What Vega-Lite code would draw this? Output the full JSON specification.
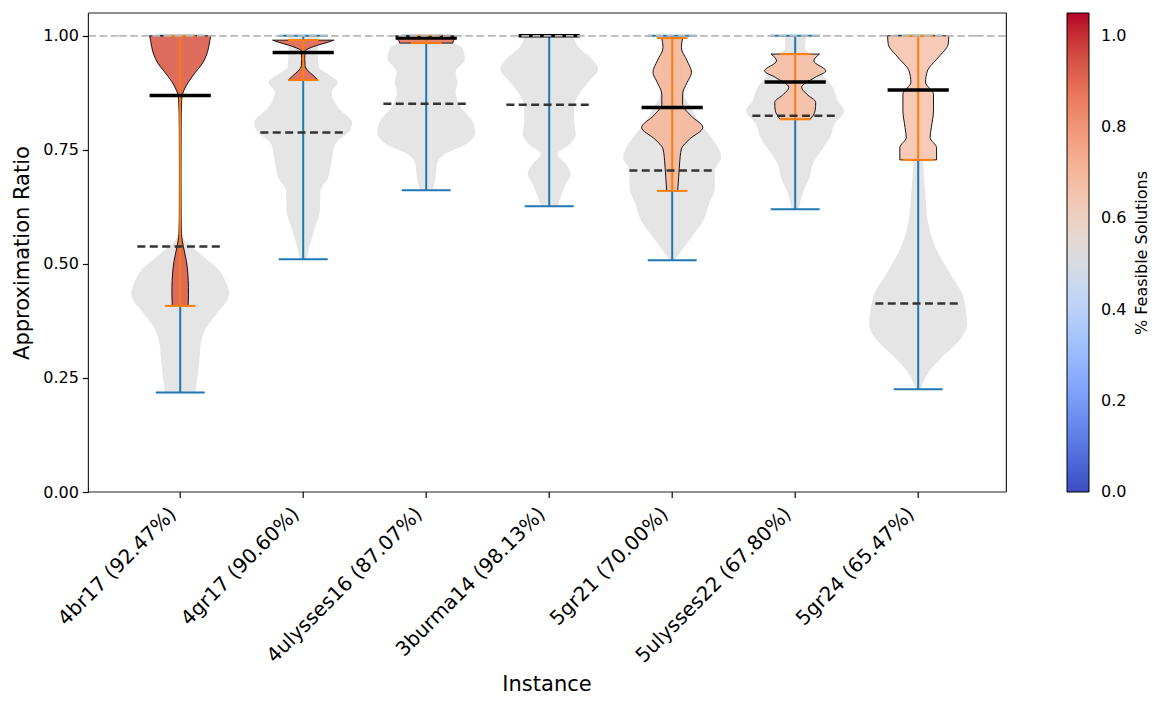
{
  "$schema": "https://vega.github.io/schema/vega-lite/v6.json",
  "padding": {"left": 11, "top": 12, "right": 0, "bottom": 0},
  "background": "white",
  "bounds": "flush",
  "data": {"values": [
    {"inst": "4br17 (92.47%)", "set": "all", "ratio": 0.218, "density": 0.31},
    {"inst": "4br17 (92.47%)", "set": "all", "ratio": 0.25, "density": 0.35},
    {"inst": "4br17 (92.47%)", "set": "all", "ratio": 0.287, "density": 0.39},
    {"inst": "4br17 (92.47%)", "set": "all", "ratio": 0.324, "density": 0.42},
    {"inst": "4br17 (92.47%)", "set": "all", "ratio": 0.36, "density": 0.53},
    {"inst": "4br17 (92.47%)", "set": "all", "ratio": 0.397, "density": 0.79},
    {"inst": "4br17 (92.47%)", "set": "all", "ratio": 0.419, "density": 0.95},
    {"inst": "4br17 (92.47%)", "set": "all", "ratio": 0.437, "density": 1.0},
    {"inst": "4br17 (92.47%)", "set": "all", "ratio": 0.463, "density": 0.92},
    {"inst": "4br17 (92.47%)", "set": "all", "ratio": 0.485, "density": 0.8},
    {"inst": "4br17 (92.47%)", "set": "all", "ratio": 0.521, "density": 0.42},
    {"inst": "4br17 (92.47%)", "set": "all", "ratio": 0.558, "density": 0.07},
    {"inst": "4br17 (92.47%)", "set": "all", "ratio": 0.6, "density": 0.02},
    {"inst": "4br17 (92.47%)", "set": "all", "ratio": 0.7, "density": 0.015},
    {"inst": "4br17 (92.47%)", "set": "all", "ratio": 0.8, "density": 0.015},
    {"inst": "4br17 (92.47%)", "set": "all", "ratio": 0.9, "density": 0.02},
    {"inst": "4br17 (92.47%)", "set": "all", "ratio": 1.0, "density": 0.03},

    {"inst": "4gr17 (90.60%)", "set": "all", "ratio": 0.51, "density": 0.07},
    {"inst": "4gr17 (90.60%)", "set": "all", "ratio": 0.543, "density": 0.14},
    {"inst": "4gr17 (90.60%)", "set": "all", "ratio": 0.58, "density": 0.24},
    {"inst": "4gr17 (90.60%)", "set": "all", "ratio": 0.616, "density": 0.34},
    {"inst": "4gr17 (90.60%)", "set": "all", "ratio": 0.66, "density": 0.35},
    {"inst": "4gr17 (90.60%)", "set": "all", "ratio": 0.689, "density": 0.51},
    {"inst": "4gr17 (90.60%)", "set": "all", "ratio": 0.726, "density": 0.58},
    {"inst": "4gr17 (90.60%)", "set": "all", "ratio": 0.762, "density": 0.65},
    {"inst": "4gr17 (90.60%)", "set": "all", "ratio": 0.792, "density": 0.95},
    {"inst": "4gr17 (90.60%)", "set": "all", "ratio": 0.81, "density": 1.0},
    {"inst": "4gr17 (90.60%)", "set": "all", "ratio": 0.843, "density": 0.71},
    {"inst": "4gr17 (90.60%)", "set": "all", "ratio": 0.876, "density": 0.58},
    {"inst": "4gr17 (90.60%)", "set": "all", "ratio": 0.898, "density": 0.71},
    {"inst": "4gr17 (90.60%)", "set": "all", "ratio": 0.916, "density": 0.51},
    {"inst": "4gr17 (90.60%)", "set": "all", "ratio": 0.931, "density": 0.32},
    {"inst": "4gr17 (90.60%)", "set": "all", "ratio": 0.96, "density": 0.3},
    {"inst": "4gr17 (90.60%)", "set": "all", "ratio": 1.0, "density": 0.3},

    {"inst": "4ulysses16 (87.07%)", "set": "all", "ratio": 0.6615, "density": 0.13},
    {"inst": "4ulysses16 (87.07%)", "set": "all", "ratio": 0.689, "density": 0.19},
    {"inst": "4ulysses16 (87.07%)", "set": "all", "ratio": 0.719, "density": 0.22},
    {"inst": "4ulysses16 (87.07%)", "set": "all", "ratio": 0.741, "density": 0.38},
    {"inst": "4ulysses16 (87.07%)", "set": "all", "ratio": 0.762, "density": 0.8},
    {"inst": "4ulysses16 (87.07%)", "set": "all", "ratio": 0.788, "density": 1.0},
    {"inst": "4ulysses16 (87.07%)", "set": "all", "ratio": 0.814, "density": 0.94},
    {"inst": "4ulysses16 (87.07%)", "set": "all", "ratio": 0.843, "density": 0.71},
    {"inst": "4ulysses16 (87.07%)", "set": "all", "ratio": 0.876, "density": 0.6},
    {"inst": "4ulysses16 (87.07%)", "set": "all", "ratio": 0.898, "density": 0.64},
    {"inst": "4ulysses16 (87.07%)", "set": "all", "ratio": 0.92, "density": 0.6},
    {"inst": "4ulysses16 (87.07%)", "set": "all", "ratio": 0.949, "density": 0.79},
    {"inst": "4ulysses16 (87.07%)", "set": "all", "ratio": 0.975, "density": 0.73},
    {"inst": "4ulysses16 (87.07%)", "set": "all", "ratio": 0.993, "density": 0.36},
    {"inst": "4ulysses16 (87.07%)", "set": "all", "ratio": 1.0, "density": 0.3},

    {"inst": "3burma14 (98.13%)", "set": "all", "ratio": 0.6265, "density": 0.17},
    {"inst": "3burma14 (98.13%)", "set": "all", "ratio": 0.649, "density": 0.24},
    {"inst": "3burma14 (98.13%)", "set": "all", "ratio": 0.675, "density": 0.34},
    {"inst": "3burma14 (98.13%)", "set": "all", "ratio": 0.697, "density": 0.44},
    {"inst": "3burma14 (98.13%)", "set": "all", "ratio": 0.719, "density": 0.34},
    {"inst": "3burma14 (98.13%)", "set": "all", "ratio": 0.741, "density": 0.17},
    {"inst": "3burma14 (98.13%)", "set": "all", "ratio": 0.762, "density": 0.41},
    {"inst": "3burma14 (98.13%)", "set": "all", "ratio": 0.784, "density": 0.54},
    {"inst": "3burma14 (98.13%)", "set": "all", "ratio": 0.814, "density": 0.51},
    {"inst": "3burma14 (98.13%)", "set": "all", "ratio": 0.843, "density": 0.51},
    {"inst": "3burma14 (98.13%)", "set": "all", "ratio": 0.872, "density": 0.61},
    {"inst": "3burma14 (98.13%)", "set": "all", "ratio": 0.901, "density": 0.82},
    {"inst": "3burma14 (98.13%)", "set": "all", "ratio": 0.927, "density": 1.0},
    {"inst": "3burma14 (98.13%)", "set": "all", "ratio": 0.952, "density": 0.85},
    {"inst": "3burma14 (98.13%)", "set": "all", "ratio": 0.974, "density": 0.61},
    {"inst": "3burma14 (98.13%)", "set": "all", "ratio": 0.996, "density": 0.51},
    {"inst": "3burma14 (98.13%)", "set": "all", "ratio": 1.0, "density": 0.5},

    {"inst": "5gr21 (70.00%)", "set": "all", "ratio": 0.508, "density": 0.05},
    {"inst": "5gr21 (70.00%)", "set": "all", "ratio": 0.529, "density": 0.19},
    {"inst": "5gr21 (70.00%)", "set": "all", "ratio": 0.558, "density": 0.39},
    {"inst": "5gr21 (70.00%)", "set": "all", "ratio": 0.594, "density": 0.63},
    {"inst": "5gr21 (70.00%)", "set": "all", "ratio": 0.631, "density": 0.75},
    {"inst": "5gr21 (70.00%)", "set": "all", "ratio": 0.667, "density": 0.87},
    {"inst": "5gr21 (70.00%)", "set": "all", "ratio": 0.704, "density": 0.87},
    {"inst": "5gr21 (70.00%)", "set": "all", "ratio": 0.733, "density": 1.0},
    {"inst": "5gr21 (70.00%)", "set": "all", "ratio": 0.777, "density": 0.8},
    {"inst": "5gr21 (70.00%)", "set": "all", "ratio": 0.81, "density": 0.55},
    {"inst": "5gr21 (70.00%)", "set": "all", "ratio": 0.84, "density": 0.4},
    {"inst": "5gr21 (70.00%)", "set": "all", "ratio": 0.865, "density": 0.26},
    {"inst": "5gr21 (70.00%)", "set": "all", "ratio": 0.9, "density": 0.22},
    {"inst": "5gr21 (70.00%)", "set": "all", "ratio": 0.95, "density": 0.2},
    {"inst": "5gr21 (70.00%)", "set": "all", "ratio": 1.0, "density": 0.18},

    {"inst": "5ulysses22 (67.80%)", "set": "all", "ratio": 0.62, "density": 0.07},
    {"inst": "5ulysses22 (67.80%)", "set": "all", "ratio": 0.66, "density": 0.17},
    {"inst": "5ulysses22 (67.80%)", "set": "all", "ratio": 0.689, "density": 0.29},
    {"inst": "5ulysses22 (67.80%)", "set": "all", "ratio": 0.719, "density": 0.36},
    {"inst": "5ulysses22 (67.80%)", "set": "all", "ratio": 0.748, "density": 0.53},
    {"inst": "5ulysses22 (67.80%)", "set": "all", "ratio": 0.777, "density": 0.71},
    {"inst": "5ulysses22 (67.80%)", "set": "all", "ratio": 0.806, "density": 0.8},
    {"inst": "5ulysses22 (67.80%)", "set": "all", "ratio": 0.836, "density": 1.0},
    {"inst": "5ulysses22 (67.80%)", "set": "all", "ratio": 0.857, "density": 0.87},
    {"inst": "5ulysses22 (67.80%)", "set": "all", "ratio": 0.887, "density": 0.77},
    {"inst": "5ulysses22 (67.80%)", "set": "all", "ratio": 0.91, "density": 0.6},
    {"inst": "5ulysses22 (67.80%)", "set": "all", "ratio": 0.935, "density": 0.45},
    {"inst": "5ulysses22 (67.80%)", "set": "all", "ratio": 0.96, "density": 0.3},
    {"inst": "5ulysses22 (67.80%)", "set": "all", "ratio": 0.974, "density": 0.2},
    {"inst": "5ulysses22 (67.80%)", "set": "all", "ratio": 1.0, "density": 0.22},

    {"inst": "5gr24 (65.47%)", "set": "all", "ratio": 0.225, "density": 0.05},
    {"inst": "5gr24 (65.47%)", "set": "all", "ratio": 0.265, "density": 0.23},
    {"inst": "5gr24 (65.47%)", "set": "all", "ratio": 0.295, "density": 0.48},
    {"inst": "5gr24 (65.47%)", "set": "all", "ratio": 0.331, "density": 0.83},
    {"inst": "5gr24 (65.47%)", "set": "all", "ratio": 0.368, "density": 1.0},
    {"inst": "5gr24 (65.47%)", "set": "all", "ratio": 0.4, "density": 0.97},
    {"inst": "5gr24 (65.47%)", "set": "all", "ratio": 0.434, "density": 0.9},
    {"inst": "5gr24 (65.47%)", "set": "all", "ratio": 0.477, "density": 0.66},
    {"inst": "5gr24 (65.47%)", "set": "all", "ratio": 0.528, "density": 0.39},
    {"inst": "5gr24 (65.47%)", "set": "all", "ratio": 0.58, "density": 0.22},
    {"inst": "5gr24 (65.47%)", "set": "all", "ratio": 0.645, "density": 0.15},
    {"inst": "5gr24 (65.47%)", "set": "all", "ratio": 0.72, "density": 0.1},
    {"inst": "5gr24 (65.47%)", "set": "all", "ratio": 0.8, "density": 0.06},
    {"inst": "5gr24 (65.47%)", "set": "all", "ratio": 0.9, "density": 0.05},
    {"inst": "5gr24 (65.47%)", "set": "all", "ratio": 1.0, "density": 0.05},

    {"inst": "4br17 (92.47%)", "set": "feas", "feas": 0.9247, "ratio": 0.408, "density": 0.26},
    {"inst": "4br17 (92.47%)", "set": "feas", "feas": 0.9247, "ratio": 0.43, "density": 0.27},
    {"inst": "4br17 (92.47%)", "set": "feas", "feas": 0.9247, "ratio": 0.448, "density": 0.27},
    {"inst": "4br17 (92.47%)", "set": "feas", "feas": 0.9247, "ratio": 0.478, "density": 0.25},
    {"inst": "4br17 (92.47%)", "set": "feas", "feas": 0.9247, "ratio": 0.507, "density": 0.2},
    {"inst": "4br17 (92.47%)", "set": "feas", "feas": 0.9247, "ratio": 0.536, "density": 0.11},
    {"inst": "4br17 (92.47%)", "set": "feas", "feas": 0.9247, "ratio": 0.566, "density": 0.04},
    {"inst": "4br17 (92.47%)", "set": "feas", "feas": 0.9247, "ratio": 0.6, "density": 0.03},
    {"inst": "4br17 (92.47%)", "set": "feas", "feas": 0.9247, "ratio": 0.7, "density": 0.025},
    {"inst": "4br17 (92.47%)", "set": "feas", "feas": 0.9247, "ratio": 0.8, "density": 0.03},
    {"inst": "4br17 (92.47%)", "set": "feas", "feas": 0.9247, "ratio": 0.86, "density": 0.05},
    {"inst": "4br17 (92.47%)", "set": "feas", "feas": 0.9247, "ratio": 0.88, "density": 0.12},
    {"inst": "4br17 (92.47%)", "set": "feas", "feas": 0.9247, "ratio": 0.9, "density": 0.28},
    {"inst": "4br17 (92.47%)", "set": "feas", "feas": 0.9247, "ratio": 0.92, "density": 0.5},
    {"inst": "4br17 (92.47%)", "set": "feas", "feas": 0.9247, "ratio": 0.94, "density": 0.73},
    {"inst": "4br17 (92.47%)", "set": "feas", "feas": 0.9247, "ratio": 0.96, "density": 0.87},
    {"inst": "4br17 (92.47%)", "set": "feas", "feas": 0.9247, "ratio": 0.975, "density": 0.93},
    {"inst": "4br17 (92.47%)", "set": "feas", "feas": 0.9247, "ratio": 0.99, "density": 0.97},
    {"inst": "4br17 (92.47%)", "set": "feas", "feas": 0.9247, "ratio": 1.0, "density": 1.0},

    {"inst": "4gr17 (90.60%)", "set": "feas", "feas": 0.906, "ratio": 0.903, "density": 0.48},
    {"inst": "4gr17 (90.60%)", "set": "feas", "feas": 0.906, "ratio": 0.912, "density": 0.35},
    {"inst": "4gr17 (90.60%)", "set": "feas", "feas": 0.906, "ratio": 0.923, "density": 0.16},
    {"inst": "4gr17 (90.60%)", "set": "feas", "feas": 0.906, "ratio": 0.935, "density": 0.06},
    {"inst": "4gr17 (90.60%)", "set": "feas", "feas": 0.906, "ratio": 0.95, "density": 0.05},
    {"inst": "4gr17 (90.60%)", "set": "feas", "feas": 0.906, "ratio": 0.967, "density": 0.06},
    {"inst": "4gr17 (90.60%)", "set": "feas", "feas": 0.906, "ratio": 0.973, "density": 0.21},
    {"inst": "4gr17 (90.60%)", "set": "feas", "feas": 0.906, "ratio": 0.9795, "density": 0.48},
    {"inst": "4gr17 (90.60%)", "set": "feas", "feas": 0.906, "ratio": 0.9854, "density": 0.78},
    {"inst": "4gr17 (90.60%)", "set": "feas", "feas": 0.906, "ratio": 0.9905, "density": 1.0},

    {"inst": "4ulysses16 (87.07%)", "set": "feas", "feas": 0.8707, "ratio": 0.984, "density": 0.87},
    {"inst": "4ulysses16 (87.07%)", "set": "feas", "feas": 0.8707, "ratio": 0.99, "density": 0.9},
    {"inst": "4ulysses16 (87.07%)", "set": "feas", "feas": 0.8707, "ratio": 0.995, "density": 0.95},
    {"inst": "4ulysses16 (87.07%)", "set": "feas", "feas": 0.8707, "ratio": 1.0, "density": 1.0},

    {"inst": "5gr21 (70.00%)", "set": "feas", "feas": 0.70, "ratio": 0.66, "density": 0.18},
    {"inst": "5gr21 (70.00%)", "set": "feas", "feas": 0.70, "ratio": 0.689, "density": 0.21},
    {"inst": "5gr21 (70.00%)", "set": "feas", "feas": 0.70, "ratio": 0.719, "density": 0.24},
    {"inst": "5gr21 (70.00%)", "set": "feas", "feas": 0.70, "ratio": 0.752, "density": 0.3},
    {"inst": "5gr21 (70.00%)", "set": "feas", "feas": 0.70, "ratio": 0.773, "density": 0.56},
    {"inst": "5gr21 (70.00%)", "set": "feas", "feas": 0.70, "ratio": 0.799, "density": 1.0},
    {"inst": "5gr21 (70.00%)", "set": "feas", "feas": 0.70, "ratio": 0.825, "density": 0.61},
    {"inst": "5gr21 (70.00%)", "set": "feas", "feas": 0.70, "ratio": 0.85, "density": 0.34},
    {"inst": "5gr21 (70.00%)", "set": "feas", "feas": 0.70, "ratio": 0.872, "density": 0.34},
    {"inst": "5gr21 (70.00%)", "set": "feas", "feas": 0.70, "ratio": 0.898, "density": 0.49},
    {"inst": "5gr21 (70.00%)", "set": "feas", "feas": 0.70, "ratio": 0.92, "density": 0.63},
    {"inst": "5gr21 (70.00%)", "set": "feas", "feas": 0.70, "ratio": 0.945, "density": 0.49},
    {"inst": "5gr21 (70.00%)", "set": "feas", "feas": 0.70, "ratio": 0.974, "density": 0.3},
    {"inst": "5gr21 (70.00%)", "set": "feas", "feas": 0.70, "ratio": 0.995, "density": 0.34},

    {"inst": "5ulysses22 (67.80%)", "set": "feas", "feas": 0.678, "ratio": 0.817, "density": 0.49},
    {"inst": "5ulysses22 (67.80%)", "set": "feas", "feas": 0.678, "ratio": 0.836, "density": 0.65},
    {"inst": "5ulysses22 (67.80%)", "set": "feas", "feas": 0.678, "ratio": 0.854, "density": 0.67},
    {"inst": "5ulysses22 (67.80%)", "set": "feas", "feas": 0.678, "ratio": 0.872, "density": 0.38},
    {"inst": "5ulysses22 (67.80%)", "set": "feas", "feas": 0.678, "ratio": 0.887, "density": 0.21},
    {"inst": "5ulysses22 (67.80%)", "set": "feas", "feas": 0.678, "ratio": 0.909, "density": 0.65},
    {"inst": "5ulysses22 (67.80%)", "set": "feas", "feas": 0.678, "ratio": 0.923, "density": 1.0},
    {"inst": "5ulysses22 (67.80%)", "set": "feas", "feas": 0.678, "ratio": 0.945, "density": 0.61},
    {"inst": "5ulysses22 (67.80%)", "set": "feas", "feas": 0.678, "ratio": 0.96, "density": 0.79},

    {"inst": "5gr24 (65.47%)", "set": "feas", "feas": 0.6547, "ratio": 0.728, "density": 0.6},
    {"inst": "5gr24 (65.47%)", "set": "feas", "feas": 0.6547, "ratio": 0.755, "density": 0.6},
    {"inst": "5gr24 (65.47%)", "set": "feas", "feas": 0.6547, "ratio": 0.777, "density": 0.39},
    {"inst": "5gr24 (65.47%)", "set": "feas", "feas": 0.6547, "ratio": 0.799, "density": 0.43},
    {"inst": "5gr24 (65.47%)", "set": "feas", "feas": 0.6547, "ratio": 0.836, "density": 0.5},
    {"inst": "5gr24 (65.47%)", "set": "feas", "feas": 0.6547, "ratio": 0.872, "density": 0.5},
    {"inst": "5gr24 (65.47%)", "set": "feas", "feas": 0.6547, "ratio": 0.898, "density": 0.24},
    {"inst": "5gr24 (65.47%)", "set": "feas", "feas": 0.6547, "ratio": 0.923, "density": 0.3},
    {"inst": "5gr24 (65.47%)", "set": "feas", "feas": 0.6547, "ratio": 0.952, "density": 0.65},
    {"inst": "5gr24 (65.47%)", "set": "feas", "feas": 0.6547, "ratio": 0.982, "density": 0.98},
    {"inst": "5gr24 (65.47%)", "set": "feas", "feas": 0.6547, "ratio": 1.0, "density": 1.0},

    {"inst": "4br17 (92.47%)", "set": "stats", "allMin": 0.218, "allMax": 1.0, "allMean": 0.538, "feasMin": 0.408, "feasMax": 1.0, "feasMean": 0.869},
    {"inst": "4gr17 (90.60%)", "set": "stats", "allMin": 0.51, "allMax": 1.0, "allMean": 0.788, "feasMin": 0.903, "feasMax": 0.9905, "feasMean": 0.9635},
    {"inst": "4ulysses16 (87.07%)", "set": "stats", "allMin": 0.6615, "allMax": 1.0, "allMean": 0.851, "feasMin": 0.984, "feasMax": 1.0, "feasMean": 0.995},
    {"inst": "3burma14 (98.13%)", "set": "stats", "allMin": 0.6265, "allMax": 1.0, "allMean": 0.849, "feasMin": 1.0, "feasMax": 1.0, "feasMean": 1.0},
    {"inst": "5gr21 (70.00%)", "set": "stats", "allMin": 0.508, "allMax": 1.0, "allMean": 0.705, "feasMin": 0.66, "feasMax": 0.995, "feasMean": 0.843},
    {"inst": "5ulysses22 (67.80%)", "set": "stats", "allMin": 0.62, "allMax": 1.0, "allMean": 0.825, "feasMin": 0.817, "feasMax": 0.96, "feasMean": 0.899},
    {"inst": "5gr24 (65.47%)", "set": "stats", "allMin": 0.225, "allMax": 1.0, "allMean": 0.413, "feasMin": 0.728, "feasMax": 1.0, "feasMean": 0.881}
  ]},
  "facet": {
    "column": {
      "field": "inst", "type": "nominal",
      "sort": ["4br17 (92.47%)", "4gr17 (90.60%)", "4ulysses16 (87.07%)", "3burma14 (98.13%)", "5gr21 (70.00%)", "5ulysses22 (67.80%)", "5gr24 (65.47%)"],
      "title": "Instance",
      "header": {
        "labelOrient": "bottom", "labelAngle": -45, "labelAlign": "right", "labelBaseline": "bottom",
        "labelFont": "DejaVu Sans", "labelFontSize": 20, "labelColor": "black", "labelPadding": 26,
        "titleOrient": "bottom", "titleFont": "DejaVu Sans", "titleFontSize": 21, "titleFontWeight": "normal",
        "titleColor": "black", "titlePadding": -3
      }
    }
  },
  "spacing": 0,
  "spec": {
    "width": 122.4,
    "height": 479,
    "resolve": {"scale": {"x": "independent"}, "axis": {"x": "independent"}},
    "layer": [
      {
        "transform": [{"filter": "datum.set === 'all'"}],
        "mark": {"type": "area", "orient": "horizontal", "interpolate": "monotone", "color": "#e5e5e5"},
        "encoding": {
          "x": {"field": "density", "type": "quantitative", "stack": "center", "impute": null, "scale": {"domain": [-0.1245, 1.1245], "nice": false, "zero": false}, "axis": null},
          "y": {"field": "ratio", "type": "quantitative", "scale": {"domain": [0, 1.05], "nice": false, "zero": false},
            "axis": {"values": [0, 0.25, 0.5, 0.75, 1.0], "format": ".2f", "offset": 30.6, "domain": false, "grid": false,
              "tickSize": 6, "tickColor": "black", "tickWidth": 1.2, "labelFont": "DejaVu Sans", "labelFontSize": 16, "labelColor": "black", "labelPadding": 4,
              "title": "Approximation Ratio", "titleFont": "DejaVu Sans", "titleFontSize": 21, "titleFontWeight": "normal", "titleColor": "black", "titlePadding": 10}}
        }
      },
      {
        "transform": [{"filter": "datum.set === 'stats'"}],
        "mark": {"type": "rule", "color": "#1f77b4", "strokeWidth": 2},
        "encoding": {
          "x": {"datum": 0, "type": "quantitative", "scale": {"domain": [-0.5, 0.5], "nice": false, "zero": false}, "axis": null},
          "y": {"field": "allMin", "type": "quantitative"},
          "y2": {"field": "allMax"}
        }
      },
      {
        "transform": [{"filter": "datum.set === 'stats'"}],
        "mark": {"type": "rule", "color": "#1f77b4", "strokeWidth": 2},
        "encoding": {
          "x": {"datum": -0.2, "type": "quantitative", "scale": {"domain": [-0.5, 0.5], "nice": false, "zero": false}, "axis": null},
          "x2": {"datum": 0.2},
          "y": {"field": "allMin", "type": "quantitative"}
        }
      },
      {
        "transform": [{"filter": "datum.set === 'stats'"}],
        "mark": {"type": "rule", "color": "#1f77b4", "strokeWidth": 2},
        "encoding": {
          "x": {"datum": -0.2, "type": "quantitative", "scale": {"domain": [-0.5, 0.5], "nice": false, "zero": false}, "axis": null},
          "x2": {"datum": 0.2},
          "y": {"field": "allMax", "type": "quantitative"}
        }
      },
      {
        "transform": [{"filter": "datum.set === 'feas'"}],
        "mark": {"type": "area", "orient": "horizontal", "interpolate": "monotone", "fillOpacity": 0.9, "stroke": "black", "strokeWidth": 0.9},
        "encoding": {
          "x": {"field": "density", "type": "quantitative", "stack": "center", "impute": null, "scale": {"domain": [-0.5, 1.5], "nice": false, "zero": false}, "axis": null},
          "y": {"field": "ratio", "type": "quantitative"},
          "fill": {"field": "feas", "type": "quantitative",
            "scale": {
              "domain": [0, 0.065625, 0.13125, 0.196875, 0.2625, 0.328125, 0.39375, 0.459375, 0.525, 0.590625, 0.65625, 0.721875, 0.7875, 0.853125, 0.91875, 0.984375, 1.05],
              "range": ["#3b4cc0", "#4d68d7", "#6282ea", "#779af7", "#8db0fe", "#a3c2fe", "#b8d0f9", "#ccd9ee", "#dddddd", "#ecd3c5", "#f5c4ad", "#f7b194", "#f49a7b", "#ec7f63", "#de604d", "#cb3e38", "#b40426"],
              "interpolate": "rgb", "nice": false, "zero": false
            },
            "legend": {
              "title": "% Feasible Solutions", "direction": "vertical", "orient": "right", "offset": 59, "padding": 0,
              "gradientLength": 479, "gradientThickness": 22, "gradientStrokeColor": "black", "gradientStrokeWidth": 1,
              "values": [0, 0.2, 0.4, 0.6, 0.8, 1.0], "format": ".1f", "labelOverlap": false,
              "labelFont": "DejaVu Sans", "labelFontSize": 16, "labelColor": "black", "labelOffset": 12,
              "titleOrient": "right", "titleAnchor": "middle", "titleFont": "DejaVu Sans", "titleFontSize": 16,
              "titleFontWeight": "normal", "titleColor": "black", "titlePadding": 8,
              "encoding": {
                "title": {"angle": {"value": 270}, "baseline": {"value": "top"}},
                "labels": {"baseline": {"value": "middle"}}
              }
            }
          }
        }
      },
      {
        "transform": [{"filter": "datum.set === 'stats'"}],
        "mark": {"type": "rule", "color": "#ff7f0e", "strokeWidth": 2},
        "encoding": {
          "x": {"datum": 0, "type": "quantitative", "scale": {"domain": [-0.5, 0.5], "nice": false, "zero": false}, "axis": null},
          "y": {"field": "feasMin", "type": "quantitative"},
          "y2": {"field": "feasMax"}
        }
      },
      {
        "transform": [{"filter": "datum.set === 'stats'"}],
        "mark": {"type": "rule", "color": "#ff7f0e", "strokeWidth": 2},
        "encoding": {
          "x": {"datum": -0.125, "type": "quantitative", "scale": {"domain": [-0.5, 0.5], "nice": false, "zero": false}, "axis": null},
          "x2": {"datum": 0.125},
          "y": {"field": "feasMin", "type": "quantitative"}
        }
      },
      {
        "transform": [{"filter": "datum.set === 'stats'"}],
        "mark": {"type": "rule", "color": "#ff7f0e", "strokeWidth": 2},
        "encoding": {
          "x": {"datum": -0.125, "type": "quantitative", "scale": {"domain": [-0.5, 0.5], "nice": false, "zero": false}, "axis": null},
          "x2": {"datum": 0.125},
          "y": {"field": "feasMax", "type": "quantitative"}
        }
      },
      {
        "transform": [{"filter": "datum.set === 'stats'"}],
        "mark": {"type": "rule", "color": "black", "strokeWidth": 3.5},
        "encoding": {
          "x": {"datum": -0.25, "type": "quantitative", "scale": {"domain": [-0.5, 0.5], "nice": false, "zero": false}, "axis": null},
          "x2": {"datum": 0.25},
          "y": {"field": "feasMean", "type": "quantitative"}
        }
      },
      {
        "transform": [{"filter": "datum.set === 'stats'"}],
        "mark": {"type": "rule", "color": "#333333", "strokeWidth": 2.5, "strokeDash": [8, 4.4]},
        "encoding": {
          "x": {"datum": -0.35, "type": "quantitative", "scale": {"domain": [-0.5, 0.5], "nice": false, "zero": false}, "axis": null},
          "x2": {"datum": 0.35},
          "y": {"field": "allMean", "type": "quantitative"}
        }
      },
      {
        "transform": [{"filter": "datum.set === 'stats'"}],
        "mark": {"type": "rule", "color": "#b8b8b8", "strokeWidth": 1.7, "strokeDash": [7.7, 3.43]},
        "encoding": {
          "x": {"datum": -0.5, "type": "quantitative", "scale": {"domain": [-0.5, 0.5], "nice": false, "zero": false}, "axis": null},
          "x2": {"datum": 0.5},
          "y": {"datum": 1.0, "type": "quantitative"}
        }
      },
      {
        "transform": [{"filter": "datum.set === 'stats'"}],
        "mark": {"type": "rule", "color": "black", "strokeWidth": 1.2},
        "encoding": {
          "x": {"datum": 0, "type": "quantitative", "scale": {"domain": [-0.5, 0.5], "nice": false, "zero": false}, "axis": null},
          "y": {"datum": 0, "type": "quantitative"},
          "y2": {"datum": -0.0132}
        }
      },
      {
        "transform": [{"filter": "datum.set === 'stats' && datum.inst === '4br17 (92.47%)'"}],
        "mark": {"type": "rule", "color": "#b8b8b8", "strokeWidth": 1.7, "strokeDash": [7.7, 3.43]},
        "encoding": {
          "x": {"datum": -0.75, "type": "quantitative", "scale": {"domain": [-0.5, 0.5], "nice": false, "zero": false}, "axis": null},
          "x2": {"datum": -0.5},
          "y": {"datum": 1.0, "type": "quantitative"}
        }
      },
      {
        "transform": [{"filter": "datum.set === 'stats' && datum.inst === '4br17 (92.47%)'"}],
        "mark": {"type": "rule", "color": "#b8b8b8", "strokeWidth": 1.7, "strokeDash": [7.7, 3.43]},
        "encoding": {
          "x": {"datum": 6.5, "type": "quantitative", "scale": {"domain": [-0.5, 0.5], "nice": false, "zero": false}, "axis": null},
          "x2": {"datum": 6.75},
          "y": {"datum": 1.0, "type": "quantitative"}
        }
      },
      {
        "transform": [{"filter": "datum.set === 'stats' && datum.inst === '4br17 (92.47%)'"}],
        "mark": {"type": "rule", "color": "#222222", "strokeWidth": 1.2},
        "encoding": {
          "x": {"datum": -0.75, "type": "quantitative", "scale": {"domain": [-0.5, 0.5], "nice": false, "zero": false}, "axis": null},
          "x2": {"datum": 6.75},
          "y": {"datum": 1.05, "type": "quantitative"}
        }
      },
      {
        "transform": [{"filter": "datum.set === 'stats' && datum.inst === '4br17 (92.47%)'"}],
        "mark": {"type": "rule", "color": "#222222", "strokeWidth": 1.2},
        "encoding": {
          "x": {"datum": -0.75, "type": "quantitative", "scale": {"domain": [-0.5, 0.5], "nice": false, "zero": false}, "axis": null},
          "x2": {"datum": 6.75},
          "y": {"datum": 0, "type": "quantitative"}
        }
      },
      {
        "transform": [{"filter": "datum.set === 'stats' && datum.inst === '4br17 (92.47%)'"}],
        "mark": {"type": "rule", "color": "#222222", "strokeWidth": 1.2},
        "encoding": {
          "x": {"datum": -0.75, "type": "quantitative", "scale": {"domain": [-0.5, 0.5], "nice": false, "zero": false}, "axis": null},
          "y": {"datum": 0, "type": "quantitative"},
          "y2": {"datum": 1.05}
        }
      },
      {
        "transform": [{"filter": "datum.set === 'stats' && datum.inst === '4br17 (92.47%)'"}],
        "mark": {"type": "rule", "color": "#222222", "strokeWidth": 1.2},
        "encoding": {
          "x": {"datum": 6.75, "type": "quantitative", "scale": {"domain": [-0.5, 0.5], "nice": false, "zero": false}, "axis": null},
          "y": {"datum": 0, "type": "quantitative"},
          "y2": {"datum": 1.05}
        }
      }
    ]
  },
  "config": {
    "font": "DejaVu Sans",
    "view": {"stroke": null}
  }
}
